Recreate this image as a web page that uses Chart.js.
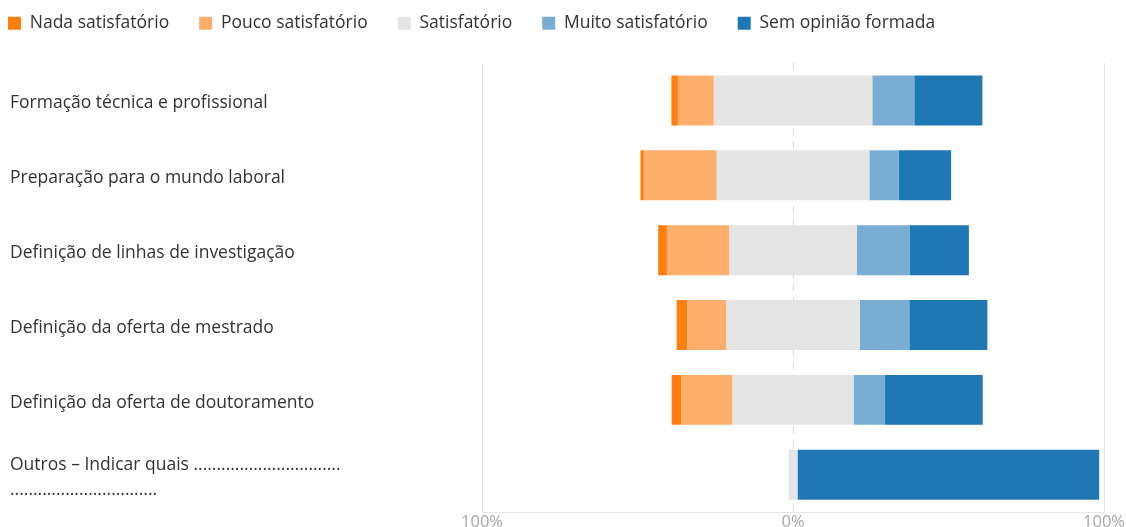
<!DOCTYPE html>
<html>
<head>
<meta charset="utf-8">
<script src="https://cdn.jsdelivr.net/npm/chart.js@4"></script>
<style>
  html, body { margin: 0; padding: 0; background: #fff; overflow: hidden; }
  #wrap { position: relative; width: 1126px; height: 532px; }
</style>
</head>
<body>
<div id="wrap"><canvas id="chart"></canvas></div>
<script>
// --- Data (percentage of answers per item) ---
const categories = [
    'Formação técnica e profissional',
    'Preparação para o mundo laboral',
    'Definição de linhas de investigação',
    'Definição da oferta de mestrado',
    'Definição da oferta de doutoramento',
    ['Outros – Indicar quais ................................', '................................']
];
const nada  = [2.1, 1.1, 2.8, 3.4, 3.1, 0];
const pouco = [11.5, 23.4, 20.0, 12.5, 16.4, 0];
const satis = [51.0, 49.1, 41.1, 43.0, 39.0, 2.9];
const muito = [13.5, 9.4, 16.9, 15.9, 10.1, 0];
const semOp = [21.9, 16.9, 19.1, 25.1, 31.4, 97.0];

const seriesNames = ['Nada satisfatório', 'Pouco satisfatório', 'Satisfatório', 'Muito satisfatório', 'Sem opinião formada'];
const seriesColors = ['#ff7f0e', '#fdae6b', '#e4e4e4', '#7aadd3', '#1f77b4'];
const xTickValues = [-100, 0, 100];

const FONT = "'Open Sans', 'Noto Sans', sans-serif";

// --- Diverging layout: "Satisfatório" is centred on 0 ---
const segs = [[], [], [], [], []];
categories.forEach((_, i) => {
    const h = satis[i] / 2;
    segs[0].push([-(h + pouco[i] + nada[i]), -(h + pouco[i])]);
    segs[1].push([-(h + pouco[i]), -h]);
    segs[2].push([-h, h]);
    segs[3].push([h, h + muito[i]]);
    segs[4].push([h + muito[i], h + muito[i] + semOp[i]]);
});

const datasets = seriesNames.map((name, k) => ({
    label: name,
    data: segs[k],
    backgroundColor: seriesColors[k],
    borderWidth: 0,
    grouped: false,
    barPercentage: 0.667,
    categoryPercentage: 1
}));

// dashed line at 0%
const zeroLine = {
    id: 'zeroLine',
    beforeDatasetsDraw(chart) {
        const { ctx, chartArea, scales: { x } } = chart;
        const px = Math.round(x.getPixelForValue(0)) + 0.5;
        ctx.save();
        ctx.strokeStyle = '#dadada';
        ctx.lineWidth = 1;
        ctx.setLineDash([7, 6]);
        ctx.beginPath();
        ctx.moveTo(px, chartArea.top);
        ctx.lineTo(px, chartArea.bottom);
        ctx.stroke();
        ctx.restore();
    }
};

// keep the wide gaps between legend items but pull the legend to the top-left corner
const legendShift = {
    id: 'legendShift',
    afterLayout(chart) {
        chart.legend.left -= 32;
        chart.legend.top -= 21;
    }
};

new Chart(document.getElementById('chart'), {
    type: 'bar',
    data: { labels: categories, datasets: datasets },
    options: {
        indexAxis: 'y',
        responsive: true,
        maintainAspectRatio: false,
        animation: false,
        layout: { padding: { left: 10, right: 22, top: 5.5, bottom: 0 } },
        plugins: {
            legend: {
                align: 'start',
                labels: {
                    boxWidth: 13,
                    boxHeight: 13,
                    padding: 30,
                    color: '#333',
                    font: { family: FONT, size: 17.5 }
                }
            },
            tooltip: { enabled: false }
        },
        scales: {
            x: {
                min: -100,
                max: 100,
                afterBuildTicks: scale => { scale.ticks = xTickValues.map(v => ({ value: v })); },
                ticks: {
                    callback: v => Math.abs(v) + '%',
                    color: '#a6a6a6',
                    font: { family: FONT, size: 16.5 },
                    padding: 0,
                    maxRotation: 0
                },
                grid: {
                    color: c => (c.tick && c.tick.value === 0) ? 'rgba(0,0,0,0)' : '#e6e6e6',
                    drawTicks: false
                },
                border: { color: '#e6e6e6' }
            },
            y: {
                grid: { display: false },
                border: { display: false },
                ticks: {
                    crossAlign: 'far',
                    color: '#333',
                    padding: 0,
                    labelOffset: 3,
                    font: { family: FONT, size: 17.5, lineHeight: 1.43 }
                },
                afterFit: scale => { scale.width = 472; }
            }
        }
    },
    plugins: [zeroLine, legendShift]
});
</script>
</body>
</html>
